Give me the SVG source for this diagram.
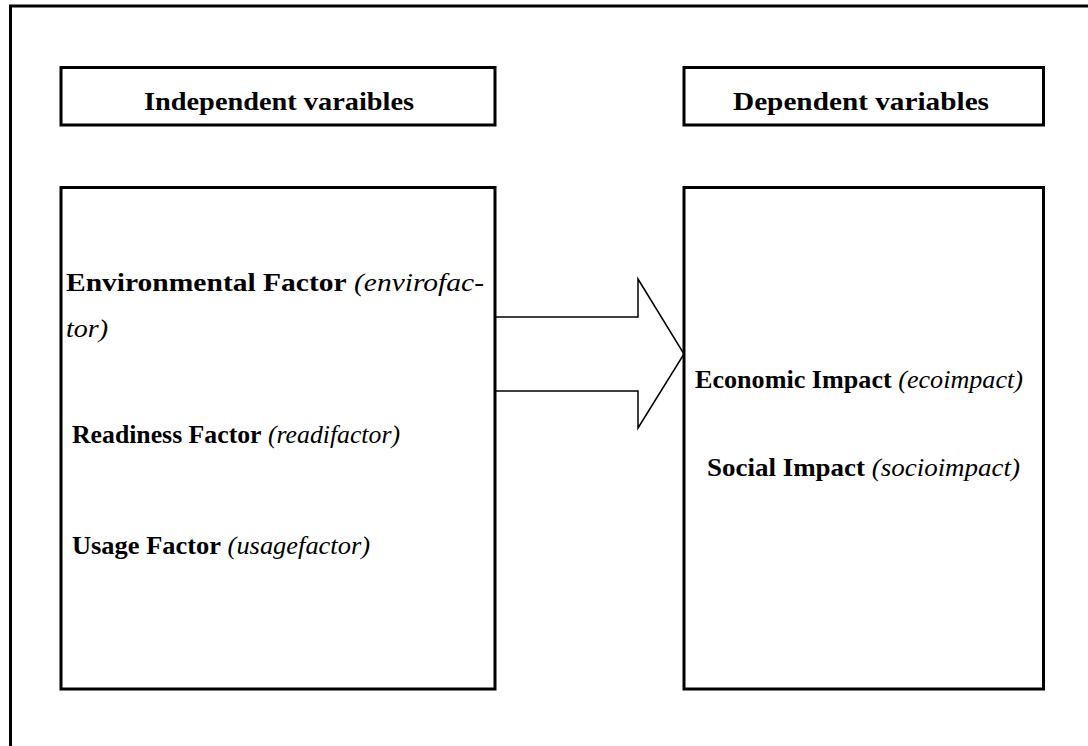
<svg xmlns="http://www.w3.org/2000/svg" width="1088" height="746" viewBox="0 0 1088 746">
<style>
.box{fill:#fff;stroke:#000;stroke-width:3}
.t{font-family:"Liberation Serif","Times New Roman",serif;font-size:25px;fill:#000}
.b{font-weight:bold}
.i{font-style:italic}
.arrow{fill:#fff;stroke:#000;stroke-width:1.5;stroke-linejoin:miter}
</style>
<rect width="1088" height="746" fill="#fff"/>
<path d="M10.5,746 V6 H1088" fill="none" stroke="#000" stroke-width="3"/>
<g id="connectors">
<path class="arrow" d="M495,317 H638 V279 L684,354 L638,428 V391 H495"/>
</g>
<g id="header-independent">
<rect class="box" x="61" y="67.5" width="434" height="57.5"/>
<text class="t b" x="144" y="110" textLength="270" lengthAdjust="spacingAndGlyphs">Independent varaibles</text>
</g>
<g id="header-dependent">
<rect class="box" x="684" y="67.5" width="359.5" height="57.5"/>
<text class="t b" x="733" y="110" textLength="256" lengthAdjust="spacingAndGlyphs">Dependent variables</text>
</g>
<g id="independent-box">
<rect class="box" x="61" y="187.5" width="434" height="501.5"/>
<text class="t" x="66" y="291" textLength="418" lengthAdjust="spacingAndGlyphs"><tspan class="b">Environmental Factor</tspan> <tspan class="i">(envirofac-</tspan></text>
<text class="t i" x="66" y="337" textLength="42" lengthAdjust="spacingAndGlyphs">tor)</text>
<text class="t" x="72" y="443" textLength="328" lengthAdjust="spacingAndGlyphs"><tspan class="b">Readiness Factor</tspan> <tspan class="i">(readifactor)</tspan></text>
<text class="t" x="72" y="554" textLength="298" lengthAdjust="spacingAndGlyphs"><tspan class="b">Usage Factor</tspan> <tspan class="i">(usagefactor)</tspan></text>
</g>
<g id="dependent-box">
<rect class="box" x="684" y="187.5" width="359.5" height="501.5"/>
<text class="t" x="695" y="388" textLength="328" lengthAdjust="spacingAndGlyphs"><tspan class="b">Economic Impact</tspan> <tspan class="i">(ecoimpact)</tspan></text>
<text class="t" x="707" y="476" textLength="313" lengthAdjust="spacingAndGlyphs"><tspan class="b">Social Impact</tspan> <tspan class="i">(socioimpact)</tspan></text>
</g>
</svg>
